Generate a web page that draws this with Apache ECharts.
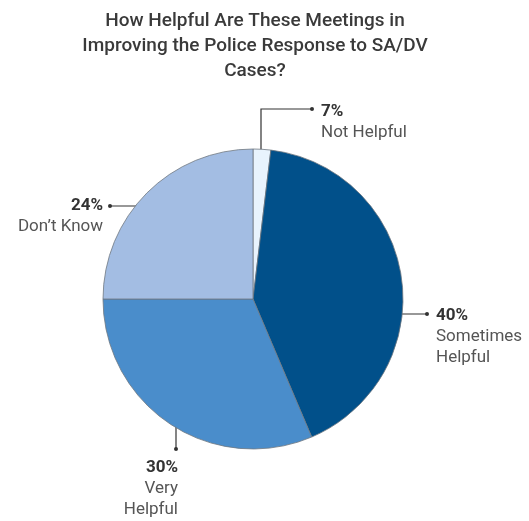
<!DOCTYPE html>
<html>
<head>
<meta charset="utf-8">
<script src="https://cdn.jsdelivr.net/npm/echarts@6/dist/echarts.min.js"></script>
<style>html,body{margin:0;padding:0;background:#fff}#c{width:529px;height:521px}</style>
</head>
<body>
<div id="c"></div>
<script>
// Data
const titleText = 'How Helpful Are These Meetings in\nImproving the Police Response to SA/DV\nCases?';
const categories = ['Not Helpful', 'Sometimes Helpful', 'Very Helpful', 'Don\u2019t Know'];
const nameLines = ['Not Helpful', 'Sometimes\nHelpful', 'Very\nHelpful', 'Don\u2019t Know'];
const percentLabels = ['7%', '40%', '30%', '24%'];
// slice sizes as drawn in the picture (share of the circle, %)
const sliceValues = [1.9, 41.7, 31.4, 25.0];
const colors = ['#e8f3fd', '#01508a', '#4a8dcb', '#a3bde3'];

// Layout (label placement and leader lines)
const center = [253, 299];
const radius = 150;
const layouts = [
  { x: 321, y: 101, align: 'left',  line: [[261, 182], [261, 109], [312, 109]] },
  { x: 436, y: 305, align: 'left',  line: [[369, 314], [427, 314], [427, 314]] },
  { x: 178, y: 457, align: 'right', line: [[176, 399], [176, 449], [176, 449]] },
  { x: 103, y: 195, align: 'right', line: [[160, 206], [110, 206], [110, 206]] }
];

const chart = echarts.init(document.getElementById('c'), null, { renderer: 'canvas' });
const fontFamily = 'Roboto, "DejaVu Sans", sans-serif';

const data = categories.map((c, i) => ({
  name: c,
  value: sliceValues[i],
  itemStyle: { color: colors[i] },
  label: {
    formatter: '{p|' + percentLabels[i] + '}\n' + nameLines[i].split('\n').map(s => '{n|' + s + '}').join('\n'),
    rich: {
      p: { fontFamily, fontSize: 17, fontWeight: 'bold', color: '#333', lineHeight: 21, align: layouts[i].align },
      n: { fontFamily, fontSize: 17, color: '#555', lineHeight: 21, align: layouts[i].align }
    }
  }
}));

chart.setOption({
  animation: false,
  title: {
    text: titleText,
    left: 250,
    top: 4,
    textAlign: 'center',
    textStyle: { fontFamily, fontSize: 19, fontWeight: 500, color: '#3a3a3a', lineHeight: 25 }
  },
  graphic: layouts.map(l => ({
    type: 'circle',
    shape: { cx: l.line[2][0], cy: l.line[2][1], r: 2 },
    style: { fill: '#333' },
    z: 10
  })),
  series: [{
    type: 'pie',
    center: center,
    radius: radius,
    startAngle: 90,
    clockwise: true,
    avoidLabelOverlap: false,
    itemStyle: { borderColor: '#6f7780', borderWidth: 0.8 },
    label: { show: true, position: 'outside' },
    labelLine: { show: true, length: 10, length2: 10, smooth: false, lineStyle: { color: '#333', width: 1.2 } },
    emphasis: { disabled: true },
    labelLayout: function (params) {
      const l = layouts[params.dataIndex];
      return { x: l.x, y: l.y, align: l.align, verticalAlign: 'top', labelLinePoints: l.line };
    },
    data: data
  }]
});
</script>
</body>
</html>
